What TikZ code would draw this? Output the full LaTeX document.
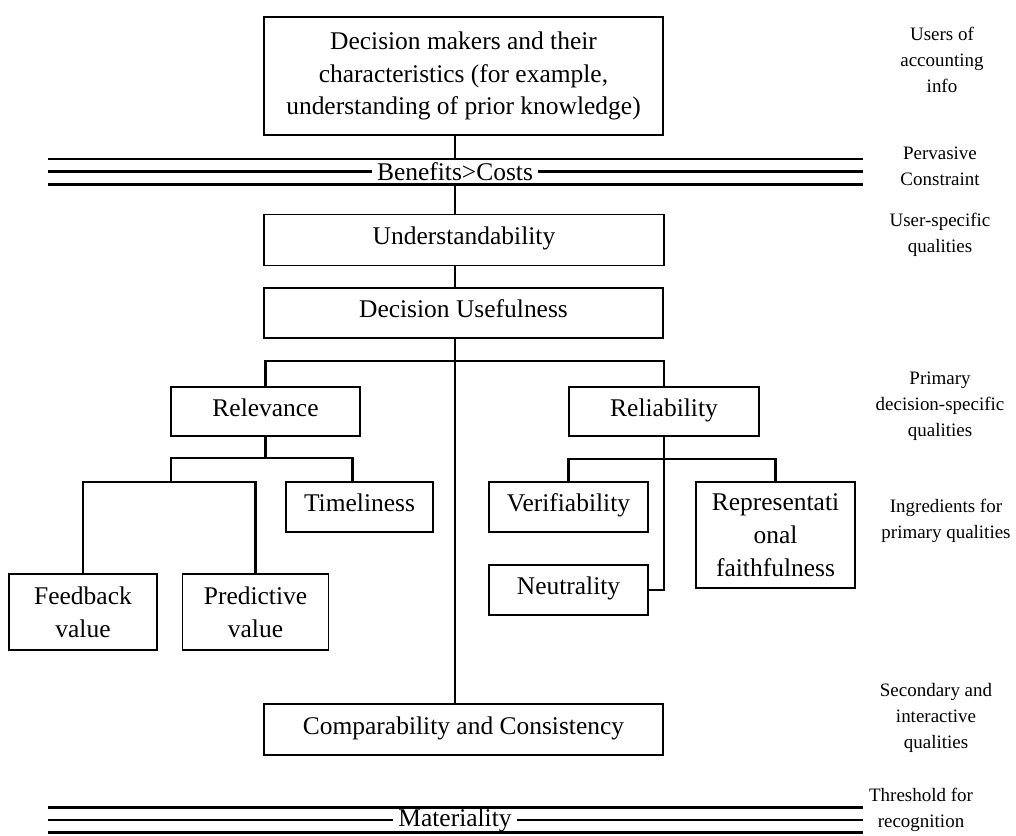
\documentclass[tikz,border=0pt]{standalone}
\usepackage{fontspec}
\setmainfont{Liberation Serif}
\newcommand\boxfont{\fontsize{14.5}{18.7}\selectfont}
\newcommand\sidefont{\fontsize{10.8}{14.7}\selectfont}

\begin{document}
\begin{tikzpicture}[x=0.02cm,y=-0.02cm,
  box/.style={draw,line width=0.8pt,align=center,inner sep=0pt,font=\boxfont},
  single/.style={text height=10pt,text depth=4.8pt},
  link/.style={line width=1.2pt},
  side/.style={align=center,font=\sidefont}]
\useasboundingbox (0,0) rectangle (1016,835);

% Boxes
\node[box,minimum width=7.98cm,minimum height=2.36cm] (top) at (463.5,76)
  {Decision makers and their\\characteristics (for example,\\understanding of prior knowledge)};
\node[box,single,minimum width=8cm,minimum height=1.02cm] (under) at (464,240) {Understandability};
\node[box,single,minimum width=7.98cm,minimum height=1cm] (usef) at (463.5,313) {Decision Usefulness};
\node[box,single,minimum width=3.78cm,minimum height=0.98cm] (relev) at (265.5,411.5) {Relevance};
\node[box,single,minimum width=3.8cm,minimum height=0.98cm] (relia) at (664,411.5) {Reliability};
\node[box,single,minimum width=2.94cm,minimum height=1cm] (timel) at (359.5,507) {Timeliness};
\node[box,minimum width=2.96cm,minimum height=1.52cm] (feed) at (83,612) {Feedback\\value};
\node[box,minimum width=2.92cm,minimum height=1.52cm] (pred) at (255.5,612) {Predictive\\value};
\node[box,single,minimum width=3.18cm,minimum height=1cm] (verif) at (568.5,507) {Verifiability};
\node[box,single,minimum width=3.18cm,minimum height=1cm] (neutr) at (568.5,590) {Neutrality};
\node[box,minimum width=3.18cm,minimum height=2.12cm] (repr) at (775.5,535)
  {Representati\\onal\\faithfulness};
\node[box,single,minimum width=7.98cm,minimum height=1.02cm] (compar) at (463.5,729.5)
  {Comparability and Consistency};

% Trunk
\coordinate (split) at (455,361);
\draw[link] (top.south -| split) -- (under.north -| split);
\draw[link] (under.south -| split) -- (usef.north -| split);
\draw[link] (usef.south -| split) -- (compar.north -| split);
\draw[link] (relev.north) |- (split) -| (relia.north);

% Relevance branch
\coordinate (relbar) at (265.5,458);
\coordinate (valbar) at (171,482);
\draw[link] (relev.south) -- (relbar);
\draw[link] (valbar) |- (relbar) -| ([xshift=-0.14cm]timel.north);
\draw[link] (feed.north) |- (valbar) -| (pred.north);

% Reliability branch
\coordinate (reliabar) at (664,459);
\draw[link] (relia.south) |- (neutr.east);
\draw[link] (verif.north) |- (reliabar) -| (repr.north);

% Constraint lines
\draw[link] (48,171.5) -- (863,171.5);
\node[fill=white,inner xsep=3pt,inner ysep=0pt,minimum height=0.5cm,font=\boxfont] (benefit) at (455,171.5) {Benefits>Costs};
\draw[link] (48,159) -- (863,159);
\draw[link] (48,184.5) -- (863,184.5);

\draw[link] (48,820) -- (863,820);
\node[fill=white,inner xsep=3pt,inner ysep=0pt,minimum height=0.5cm,font=\boxfont] (mater) at (455,820) {Materiality};
\draw[link] (48,807.5) -- (863,807.5);
\draw[link] (48,832.5) -- (863,832.5);

% Side labels
\node[side] (users) at (942,60) {Users of\\accounting\\info};
\node[side] (perv) at (940,166) {Pervasive\\Constraint};
\node[side] (userq) at (940,235) {User-specific\\qualities};
\node[side] (prim) at (940,406) {Primary\\decision-specific\\qualities};
\node[side] (ingr) at (946,521) {Ingredients for\\primary qualities};
\node[side] (second) at (936,718) {Secondary and\\interactive\\qualities};
\node[side] (thresh) at (921,810) {Threshold for\\recognition};
\end{tikzpicture}
\end{document}
